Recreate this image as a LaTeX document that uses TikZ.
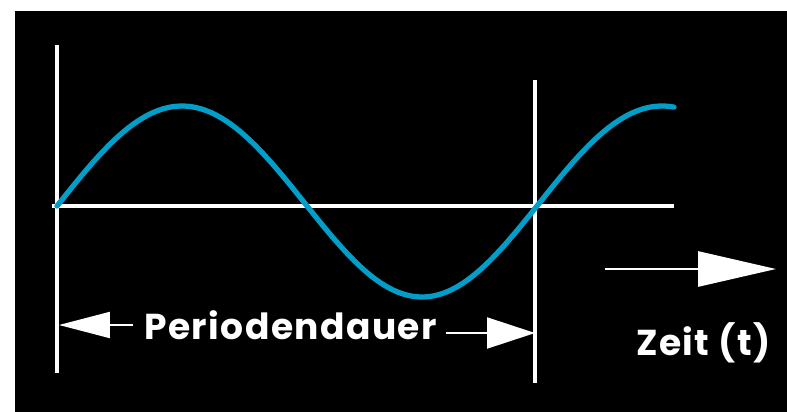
\documentclass[tikz,border=0pt]{standalone}
\usepackage{fontspec}
\newfontfamily\pfont{Poppins}[LetterSpace=4]
\usetikzlibrary{arrows.meta}
\definecolor{wave}{RGB}{0,158,200}
\tikzset{
  guide/.style={draw=white, line width=2pt},
  axisline/.style={draw=white, line width=1.9pt},
  waveline/.style={draw=wave, line width=3pt},
  lbl/.style={text=white, font=\pfont\bfseries\fontsize{20.5}{22}\selectfont, inner sep=0pt, anchor=base west},
  shaft/.style={draw=white, line width=1.2pt}
}
\begin{document}
\begin{tikzpicture}[x=0.02cm, y=-0.02cm]
\useasboundingbox (0,0) rectangle (787,412);
\fill[white] (0,0) rectangle (787,412);
\fill[black] (15,11) rectangle (787,412);
% vertical guides and axis
\coordinate (l1) at (57,45);
\coordinate (l2) at (57,373);
\coordinate (r1) at (535,80);
\coordinate (r2) at (535,383);
\coordinate (a1) at (52,206);
\coordinate (a2) at (674,206);
\draw[guide] (l1) -- (l2);
\draw[guide] (r1) -- (r2);
\draw[axisline] (a1) -- (a2);
% sine wave
\draw[waveline, line cap=round]
  plot[domain=57:307, samples=60, smooth] (\x, {206-100*sin((\x-57)/250*180)})
  -- plot[domain=307:537, samples=60, smooth] (\x, {206+91*sin((\x-307)/230*180)})
  -- plot[domain=537:674, samples=40, smooth] (\x, {206-100*sin((\x-537)/250*180)});
% labels
\node[lbl] (per) at (144,339) {Periodendauer};
\node[lbl] (zeit) at (636,355) {Zeit (t)};
% period arrows
\coordinate (pl0) at (133,325);
\coordinate (pl1) at (59,325);
\coordinate (pr0) at (446,333);
\coordinate (pr1) at (535,333);
\draw[shaft, -{Triangle[length=1.02cm, width=0.52cm]}] (pl0) -- (pl1);
\draw[shaft, -{Triangle[length=0.96cm, width=0.62cm]}] (pr0) -- (pr1);
% time arrow
\coordinate (t0) at (605,269);
\coordinate (t1) at (776,269);
\draw[draw=white, line width=1.6pt, -{Triangle[length=1.56cm, width=0.7cm]}] (t0) -- (t1);
\end{tikzpicture}
\end{document}
